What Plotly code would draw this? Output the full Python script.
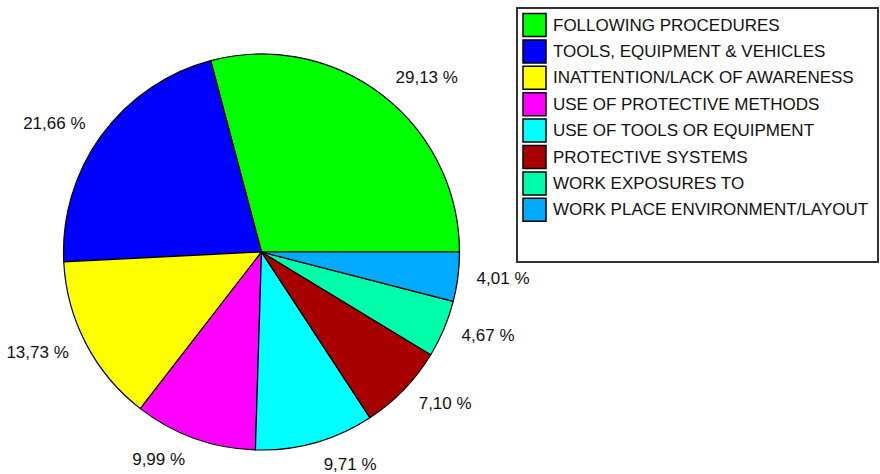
import plotly.graph_objects as go

categories = [
    "FOLLOWING PROCEDURES",
    "TOOLS, EQUIPMENT & VEHICLES",
    "INATTENTION/LACK OF AWARENESS",
    "USE OF PROTECTIVE METHODS",
    "USE OF TOOLS OR EQUIPMENT",
    "PROTECTIVE SYSTEMS",
    "WORK EXPOSURES TO",
    "WORK PLACE ENVIRONMENT/LAYOUT",
]
values = [29.13, 21.66, 13.73, 9.99, 9.71, 7.10, 4.67, 4.01]
colors = ["#00FF00", "#0000FF", "#FFFF00", "#FF00FF", "#00FFFF",
          "#A80000", "#00FFAA", "#00AAFF"]

W, H = 880, 474
FONT = "Liberation Sans, Arial, sans-serif"
CX, CY, R = 261.5, 252, 198      # pie centre / radius in px
RL = 212                          # radius of the label ring

# first slice starts at 3 o'clock and runs counter-clockwise
rot = 90 - values[0] / sum(values) * 360


def dom(r):
    return dict(x=[(CX - r) / W, (CX + r) / W], y=[1 - (CY + r) / H, 1 - (CY - r) / H])


fig = go.Figure()
# visible pie
fig.add_trace(go.Pie(
    labels=categories,
    values=values,
    sort=False,
    direction="counterclockwise",
    rotation=rot,
    marker=dict(colors=colors, line=dict(color="black", width=1.2)),
    textinfo="none",
    showlegend=False,
    automargin=False,
    hoverinfo="label+value",
    domain=dom(R),
))
# transparent ring carrying the outside percentage labels
fig.add_trace(go.Pie(
    labels=categories,
    values=values,
    sort=False,
    direction="counterclockwise",
    rotation=rot,
    marker=dict(colors=["rgba(0,0,0,0)"] * len(values), line=dict(width=0)),
    textposition="outside",
    texttemplate="%{value:.2f} %",
    textfont=dict(family=FONT, size=17, color="#111"),
    showlegend=False,
    automargin=False,
    hoverinfo="skip",
    domain=dom(RL),
))

shapes = []
annotations = []
# legend box
shapes.append(dict(type="rect", xref="paper", yref="paper",
                   x0=517 / W, x1=878 / W, y0=1 - 262 / H, y1=1 - 8 / H,
                   line=dict(color="#333", width=2), fillcolor="white"))
for i, (cat, col) in enumerate(zip(categories, colors)):
    yc = 25 + 26.4 * i
    shapes.append(dict(type="rect", xref="paper", yref="paper",
                       x0=523 / W, x1=546 / W,
                       y0=1 - (yc + 11.5) / H, y1=1 - (yc - 11.5) / H,
                       line=dict(color="black", width=1.5), fillcolor=col))
    annotations.append(dict(xref="paper", yref="paper", x=551 / W, y=1 - yc / H,
                            xanchor="left", yanchor="middle", showarrow=False,
                            text=cat, font=dict(family=FONT, size=17, color="#111")))

fig.update_layout(
    width=W, height=H,
    margin=dict(l=0, r=0, t=0, b=0, autoexpand=False),
    paper_bgcolor="white", plot_bgcolor="white",
    separators=", ",
    shapes=shapes,
    annotations=annotations,
)

fig.write_html("out.html")
